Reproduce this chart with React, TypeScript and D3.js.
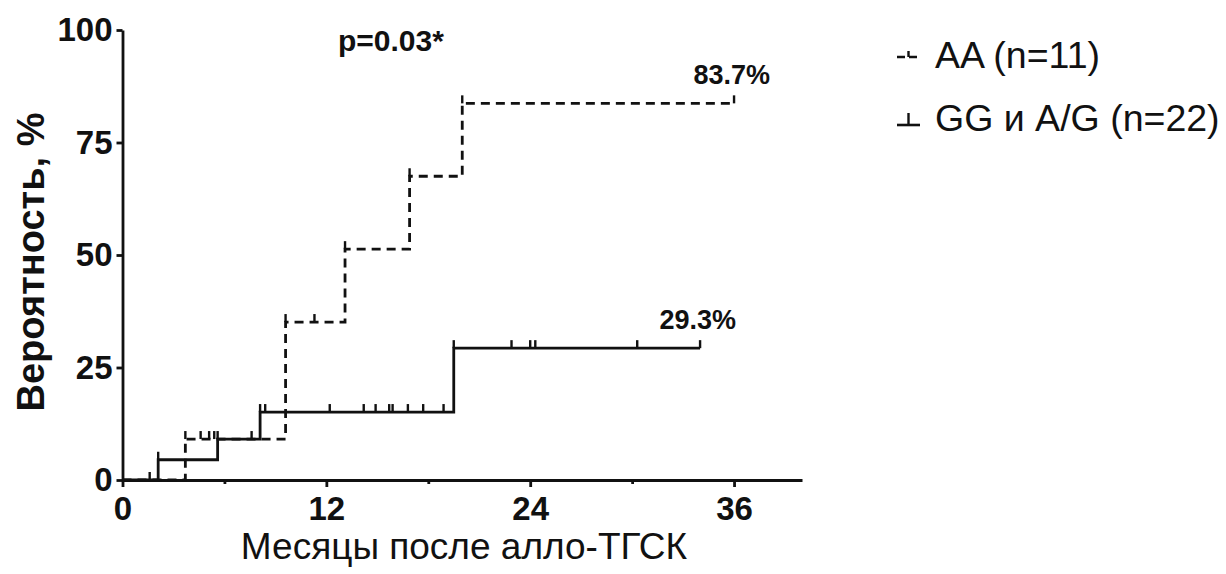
import React, { useRef, useEffect } from 'react';
import { select, scaleLinear, axisLeft, axisBottom, line, curveStepAfter } from 'd3';

// кумулятивная вероятность по месяцам, ступени Каплана-Мейера
const aaTimes = [0, 3.7, 9.6, 13.1, 16.9, 20.0];
const aaValues = [0, 9.1, 35.1, 51.3, 67.5, 83.7];
const aaEnd = 36.0;
const aaCensored = [3.7, 4.6, 5.1, 5.4, 7.6, 9.6, 11.3, 13.1, 16.9, 20.0, 36.0];

const ggTimes = [0, 2.1, 5.6, 8.1, 19.5];
const ggValues = [0, 4.5, 9.1, 15.1, 29.3];
const ggEnd = 34.0;
const ggCensored = [1.6, 2.1, 5.6, 8.1, 8.4, 12.2, 14.2, 14.9, 15.7, 15.9, 16.8, 17.7, 18.9, 19.5, 22.9, 24.0, 24.3, 30.3, 34.0];

const yTicks = [0, 25, 50, 75, 100];
const xTicks = [0, 12, 24, 36];
const xMinorTicks = [6, 18, 30];
const legendLabels = ['AA (n=11)', 'GG и A/G (n=22)'];
const endLabels = ['83.7%', '29.3%'];
const pValue = 'p=0.03*';

const FONT = '"Liberation Sans", Arial, Helvetica, sans-serif';
const INK = '#111';

const App = () => {
  const svgRef = useRef(null);

  useEffect(() => {
    const svg = select(svgRef.current);
    const x = scaleLinear().domain([0, 40]).range([122.5, 802]);
    const y = scaleLinear().domain([0, 100]).range([480, 30]);

    // оси
    const yAxis = axisLeft(y).tickValues(yTicks).tickSize(6).tickSizeOuter(0).tickPadding(4);
    svg.select('.y-axis').call(yAxis);
    const xAxis = axisBottom(x).tickValues(xTicks).tickSize(7).tickSizeOuter(0).tickPadding(10);
    svg.select('.x-axis').attr('transform', `translate(0,${y(0)})`).call(xAxis);
    const xMinor = axisBottom(x).tickValues(xMinorTicks).tickSize(4).tickSizeOuter(0).tickFormat(() => '');
    svg.select('.x-minor').attr('transform', `translate(0,${y(0)})`).call(xMinor);
    svg.select('.x-minor .domain').remove();

    svg.selectAll('.axis path, .axis line')
      .attr('stroke', INK)
      .attr('stroke-width', 2.8);
    svg.selectAll('.axis text')
      .attr('fill', INK)
      .style('font-family', FONT)
      .style('font-size', '33px')
      .style('font-weight', 'bold');

    const series = [
      { key: 'aa', times: aaTimes, values: aaValues, end: aaEnd, cens: aaCensored, dash: '9,6' },
      { key: 'gg', times: ggTimes, values: ggValues, end: ggEnd, cens: ggCensored, dash: null },
    ];

    const stepLine = line().curve(curveStepAfter).x(d => x(d[0])).y(d => y(d[1]));
    const valueAt = (s, t) => {
      let v = 0;
      s.times.forEach((tt, i) => { if (tt <= t + 1e-9) v = s.values[i]; });
      return v;
    };

    svg.select('.curves').selectAll('path')
      .data(series)
      .join('path')
      .attr('d', s => stepLine([...s.times.map((t, i) => [t, s.values[i]]), [s.end, s.values[s.values.length - 1]]]))
      .attr('fill', 'none')
      .attr('stroke', INK)
      .attr('stroke-width', 2.8)
      .attr('stroke-dasharray', s => s.dash);

    const ticks = series.flatMap(s => s.cens.map(t => ({ t, v: valueAt(s, t) })));
    svg.select('.censors').selectAll('line')
      .data(ticks)
      .join('line')
      .attr('x1', d => x(d.t)).attr('x2', d => x(d.t))
      .attr('y1', d => y(d.v)).attr('y2', d => y(d.v) - 8)
      .attr('stroke', INK)
      .attr('stroke-width', 2.4);

    // подписи конечных значений
    svg.select('.end-labels').selectAll('text')
      .data(series)
      .join('text')
      .attr('x', s => x(s.end) + 36)
      .attr('y', s => y(s.values[s.values.length - 1]) - 19)
      .attr('text-anchor', 'end')
      .attr('fill', INK)
      .style('font-family', FONT)
      .style('font-size', '27px')
      .style('font-weight', 'bold')
      .text((s, i) => endLabels[i]);
  }, []);

  return (
    <svg ref={svgRef} width={1226} height={574}
      style={{ position: 'absolute', left: 0, top: 0, background: '#fff' }}>
      <g className="axis y-axis" transform="translate(122.5,0)" />
      <g className="axis x-axis" />
      <g className="axis x-minor" />
      <g className="curves" />
      <g className="censors" />
      <g className="end-labels" />

      <text x={338} y={51} fill={INK} style={{ fontFamily: FONT, fontSize: 30, fontWeight: 'bold' }}>{pValue}</text>

      <text transform="translate(44,262) rotate(-90)" textAnchor="middle" fill={INK}
        style={{ fontFamily: FONT, fontSize: 38, fontWeight: 'bold' }}>Вероятность, %</text>
      <text x={464} y={559} textAnchor="middle" fill={INK}
        style={{ fontFamily: FONT, fontSize: 37 }}>Месяцы после алло-ТГСК</text>

      {/* легенда */}
      <g>
        <line x1={897} x2={920} y1={57} y2={57} stroke={INK} strokeWidth={2.4} strokeDasharray="8,4" />
        <line x1={908.5} x2={908.5} y1={57} y2={51} stroke={INK} strokeWidth={2.4} />
        <text x={935} y={68} fill={INK} style={{ fontFamily: FONT, fontSize: 37.5 }}>{legendLabels[0]}</text>
        <line x1={897} x2={920} y1={125} y2={125} stroke={INK} strokeWidth={2.6} />
        <line x1={908.5} x2={908.5} y1={125} y2={113} stroke={INK} strokeWidth={2.4} />
        <text x={935} y={131} fill={INK} style={{ fontFamily: FONT, fontSize: 37.5 }}>{legendLabels[1]}</text>
      </g>
    </svg>
  );
};

export default App;
